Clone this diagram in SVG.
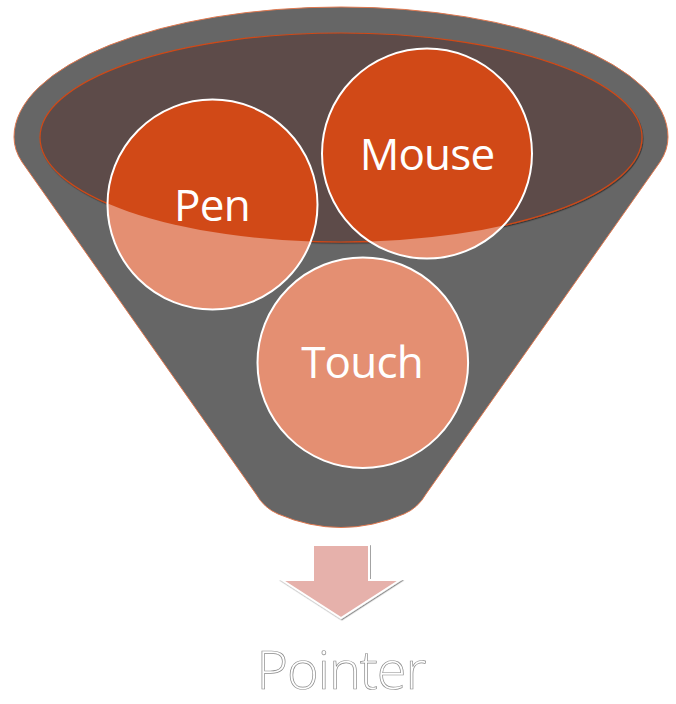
<svg xmlns="http://www.w3.org/2000/svg" width="676" height="704" viewBox="0 0 676 704">
  <style>
    .funnel { fill: #666666; stroke: #E0784F; stroke-width: 1; }
    .rim { fill: #5D4C49; stroke: #D14917; stroke-width: 1.2; }
    .disc-light { fill: #E48F72; }
    .disc-dark { fill: #D14917; }
    .disc-edge { fill: none; stroke: #FFFFFF; stroke-width: 2; }
    .label { font-family: "Open Sans", "Noto Sans", "Liberation Sans", sans-serif; font-size: 44px; fill: #FFFFFF; text-anchor: middle; letter-spacing: -0.8px; }
    .result { font-family: "Open Sans", "Noto Sans", "Liberation Sans", sans-serif; font-weight: 300; font-size: 54px; fill: #FFFFFF; stroke: #8C8C8C; stroke-width: 0.7; text-anchor: middle; letter-spacing: -1px; }
    .arrow { fill: #E6B1AB; stroke: #FFFFFF; stroke-width: 2; }
  </style>
  <defs>
    <clipPath id="rimClip">
      <ellipse cx="341" cy="137.5" rx="301" ry="104.5"/>
    </clipPath>
    <filter id="softShadow" x="-10%" y="-10%" width="120%" height="130%">
      <feDropShadow dx="0.8" dy="1.2" stdDeviation="0.6" flood-color="#000000" flood-opacity="0.45"/>
    </filter>
  </defs>

  <!-- funnel body -->
  <g id="funnel">
    <path class="funnel" d="M 14 137 A 327 130 0 0 1 668 137 Q 668 150 660 162 L 426 494 Q 418 508 404 514 Q 341 541 278 514 Q 264 508 256 494 L 22 162 Q 14 150 14 137 Z"/>
    <ellipse class="rim" cx="341" cy="137.5" rx="301" ry="104.5" filter="url(#softShadow)"/>
  </g>

  <!-- input discs -->
  <g id="node-pen">
    <circle class="disc-light" cx="212.5" cy="204.5" r="105"/>
    <circle class="disc-dark" cx="212.5" cy="204.5" r="105" clip-path="url(#rimClip)"/>
    <circle class="disc-edge" cx="212.5" cy="204.5" r="105"/>
    <text class="label" x="212" y="221">Pen</text>
  </g>
  <g id="node-mouse">
    <circle class="disc-light" cx="427" cy="153.5" r="105"/>
    <circle class="disc-dark" cx="427" cy="153.5" r="105" clip-path="url(#rimClip)"/>
    <circle class="disc-edge" cx="427" cy="153.5" r="105"/>
    <text class="label" x="427" y="170">Mouse</text>
  </g>
  <g id="node-touch">
    <circle class="disc-light" cx="362.8" cy="362.7" r="105.3"/>
    <circle class="disc-edge" cx="362.8" cy="362.7" r="105.3"/>
    <text class="label" x="362" y="378">Touch</text>
  </g>

  <!-- output arrow -->
  <g id="connectors">
    <path class="arrow" filter="url(#softShadow)" d="M 313 545 L 369 545 L 369 580 L 400 580 L 341 618 L 282 580 L 313 580 Z"/>
  </g>

  <g id="node-pointer">
    <text class="result" x="341" y="689">Pointer</text>
  </g>
</svg>
